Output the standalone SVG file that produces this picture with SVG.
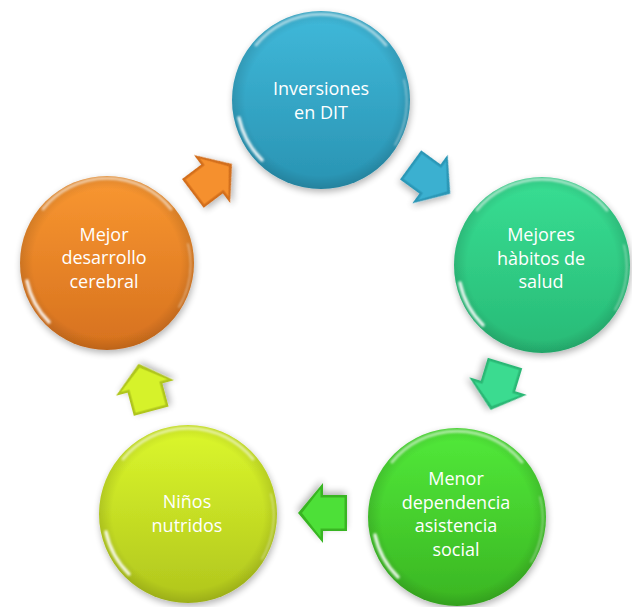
<svg xmlns="http://www.w3.org/2000/svg" width="632" height="607" viewBox="0 0 632 607">
<defs>
<style>
.lbl{font-family:"Open Sans","Liberation Sans",sans-serif;font-size:18px;fill:#ffffff;text-anchor:middle}
.rimTop{fill:none;stroke:#ffffff;stroke-width:3;stroke-opacity:0.55;stroke-linecap:round}
.rimLow{fill:none;stroke:#ffffff;stroke-width:3.5;stroke-opacity:0.85;stroke-linecap:round}
.rimR{fill:none;stroke:#ffffff;stroke-width:1.5;stroke-opacity:0.45;stroke-linecap:round}
</style>
<filter id="shadow" x="-20%" y="-20%" width="140%" height="140%">
<feGaussianBlur in="SourceAlpha" stdDeviation="3.5"/>
<feOffset dx="1" dy="3" result="b"/>
<feComponentTransfer><feFuncA type="linear" slope="0.3"/></feComponentTransfer>
<feMerge><feMergeNode/><feMergeNode in="SourceGraphic"/></feMerge>
</filter>
<filter id="soft" x="-20%" y="-20%" width="140%" height="140%"><feGaussianBlur stdDeviation="1.2"/></filter>
<filter id="bev" x="-20%" y="-20%" width="140%" height="140%"><feGaussianBlur stdDeviation="0.6"/></filter>
<linearGradient id="gBlue" x1="0" y1="0" x2="0" y2="1"><stop offset="0" stop-color="#40B9DA"/><stop offset="1" stop-color="#2993B2"/></linearGradient>
<linearGradient id="gMint" x1="0" y1="0" x2="0" y2="1"><stop offset="0" stop-color="#38DE93"/><stop offset="1" stop-color="#28BA76"/></linearGradient>
<linearGradient id="gGreen" x1="0" y1="0" x2="0" y2="1"><stop offset="0" stop-color="#52EA3A"/><stop offset="1" stop-color="#3AB522"/></linearGradient>
<linearGradient id="gLime" x1="0" y1="0" x2="0" y2="1"><stop offset="0" stop-color="#DCF82C"/><stop offset="1" stop-color="#B0C51D"/></linearGradient>
<linearGradient id="gOrange" x1="0" y1="0" x2="0" y2="1"><stop offset="0" stop-color="#F99731"/><stop offset="1" stop-color="#D6711E"/></linearGradient>
<radialGradient id="edge" cx="0.5" cy="0.5" r="0.5"><stop offset="0.85" stop-color="#000" stop-opacity="0"/><stop offset="1" stop-color="#000" stop-opacity="0.12"/></radialGradient>
<path id="arr" d="M-24,-18 L0,-18 L0,-30 L25,0 L0,30 L0,18 L-24,18 Z"/>
<path id="arrIn" d="M-21.5,-15.5 L2.5,-15.5 L2.5,-24 L21,0 L2.5,24 L2.5,15.5 L-21.5,15.5 Z"/>
</defs>
<rect width="632" height="607" fill="#ffffff"/>

<g id="connectors">
<g transform="translate(430,179) rotate(36)" filter="url(#shadow)"><use href="#arr" fill="#2C97B6"/><use href="#arrIn" fill="#3AB0D0" filter="url(#bev)"/></g>
<g transform="translate(498,386) rotate(107)" filter="url(#shadow)"><use href="#arr" fill="#29B774"/><use href="#arrIn" fill="#3ADB90" filter="url(#bev)"/></g>
<g transform="translate(323,513) rotate(180)" filter="url(#shadow)"><use href="#arr" fill="#38B522"/><use href="#arrIn" fill="#4EE037" filter="url(#bev)"/></g>
<g transform="translate(145,388) rotate(-105)" filter="url(#shadow)"><use href="#arr" fill="#AFC51C"/><use href="#arrIn" fill="#D6F229" filter="url(#bev)"/></g>
<g transform="translate(212,179) rotate(-37)" filter="url(#shadow)"><use href="#arr" fill="#D26E1C"/><use href="#arrIn" fill="#F5902E" filter="url(#bev)"/></g>
</g>

<g id="n1">
<circle cx="321" cy="100" r="89" fill="url(#gBlue)" filter="url(#shadow)"/>
<circle cx="321" cy="100" r="89" fill="url(#edge)"/>
<path class="rimTop" filter="url(#soft)" d="M256,45 A84,84 0 0 1 386,45"/>
<path class="rimLow" filter="url(#soft)" d="M239,118 A84,84 0 0 0 262,160"/>
<path class="rimR" filter="url(#soft)" d="M404,80 A86,86 0 0 1 395,145"/>
<text class="lbl" x="321" y="95">Inversiones</text>
<text class="lbl" x="321" y="118.5">en DIT</text>
</g>

<g id="n2">
<circle cx="542" cy="265" r="88" fill="url(#gMint)" filter="url(#shadow)"/>
<circle cx="542" cy="265" r="88" fill="url(#edge)"/>
<path class="rimTop" filter="url(#soft)" d="M477,210 A84,84 0 0 1 607,210"/>
<path class="rimLow" filter="url(#soft)" d="M460,283 A84,84 0 0 0 483,325"/>
<path class="rimR" filter="url(#soft)" d="M624,245 A86,86 0 0 1 615,310"/>
<text class="lbl" x="541" y="241">Mejores</text>
<text class="lbl" x="541" y="264.5">hàbitos de</text>
<text class="lbl" x="541" y="288">salud</text>
</g>

<g id="n3">
<circle cx="457" cy="517" r="89" fill="url(#gGreen)" filter="url(#shadow)"/>
<circle cx="457" cy="517" r="89" fill="url(#edge)"/>
<path class="rimTop" filter="url(#soft)" d="M392,462 A84,84 0 0 1 522,462"/>
<path class="rimLow" filter="url(#soft)" d="M375,535 A84,84 0 0 0 398,577"/>
<path class="rimR" filter="url(#soft)" d="M540,497 A86,86 0 0 1 531,562"/>
<text class="lbl" x="456" y="485">Menor</text>
<text class="lbl" x="456" y="508.5">dependencia</text>
<text class="lbl" x="456" y="532">asistencia</text>
<text class="lbl" x="456" y="555.5">social</text>
</g>

<g id="n4">
<circle cx="188" cy="514" r="89" fill="url(#gLime)" filter="url(#shadow)"/>
<circle cx="188" cy="514" r="89" fill="url(#edge)"/>
<path class="rimTop" filter="url(#soft)" d="M123,459 A84,84 0 0 1 253,459"/>
<path class="rimLow" filter="url(#soft)" d="M106,532 A84,84 0 0 0 129,574"/>
<path class="rimR" filter="url(#soft)" d="M271,494 A86,86 0 0 1 262,559"/>
<text class="lbl" x="187" y="508">Niños</text>
<text class="lbl" x="187" y="531.5">nutridos</text>
</g>

<g id="n5">
<circle cx="107" cy="263" r="87" fill="url(#gOrange)" filter="url(#shadow)"/>
<circle cx="107" cy="263" r="87" fill="url(#edge)"/>
<path class="rimTop" filter="url(#soft)" d="M43,209 A82,82 0 0 1 171,209"/>
<path class="rimLow" filter="url(#soft)" d="M27,281 A82,82 0 0 0 49,322"/>
<path class="rimR" filter="url(#soft)" d="M188,244 A84,84 0 0 1 179,307"/>
<text class="lbl" x="104" y="240.5">Mejor</text>
<text class="lbl" x="104" y="264">desarrollo</text>
<text class="lbl" x="104" y="287.5">cerebral</text>
</g>
</svg>
